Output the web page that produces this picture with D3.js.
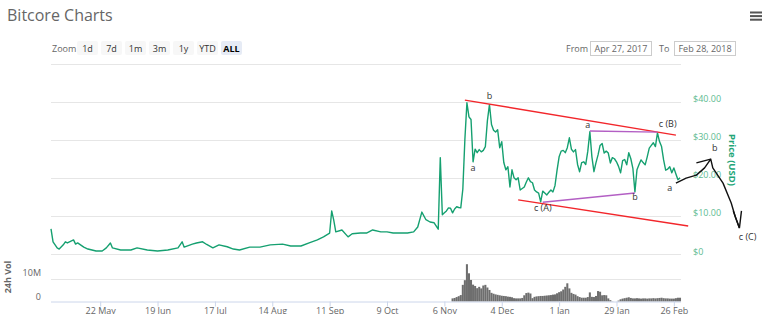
<!DOCTYPE html>
<html>
<head>
<meta charset="utf-8">
<script src="https://cdn.jsdelivr.net/npm/d3@7"></script>
<style>
  body { margin: 0; background: #fff; }
  svg { display: block; font-family: "Open Sans", "DejaVu Sans", sans-serif; }
</style>
</head>
<body>
<svg id="chart" width="768" height="314"></svg>
<script>
// sparse readings before the November run-up
var priceEarly = [
  ["2017-04-28", 6.6], ["2017-04-29", 3.2], ["2017-05-01", 1.6], ["2017-05-02", 1.3],
  ["2017-05-04", 2.4], ["2017-05-05", 3.2], ["2017-05-06", 2.9], ["2017-05-09", 3.7],
  ["2017-05-10", 2.6], ["2017-05-11", 2.9], ["2017-05-14", 1.8], ["2017-05-16", 1.3],
  ["2017-05-20", 0.8], ["2017-05-23", 0.8], ["2017-05-25", 1.6], ["2017-05-27", 2.9],
  ["2017-05-28", 1.6], ["2017-06-01", 1.05], ["2017-06-06", 1.05], ["2017-06-09", 1.6],
  ["2017-06-14", 1.05], ["2017-06-19", 0.8], ["2017-06-24", 1.05], ["2017-06-29", 1.6],
  ["2017-07-01", 3.2], ["2017-07-02", 1.8], ["2017-07-06", 2.6], ["2017-07-08", 2.9],
  ["2017-07-11", 3.2], ["2017-07-13", 2.5], ["2017-07-16", 1.6], ["2017-07-19", 2.4],
  ["2017-07-23", 1.9], ["2017-07-26", 1.3], ["2017-07-29", 1.05], ["2017-08-03", 1.8],
  ["2017-08-08", 1.8], ["2017-08-13", 2.4], ["2017-08-19", 2.6], ["2017-08-23", 2.1],
  ["2017-08-28", 2.1], ["2017-09-01", 2.9], ["2017-09-05", 3.7], ["2017-09-08", 4.5],
  ["2017-09-11", 5.5], ["2017-09-12", 11.3], ["2017-09-13", 8.9], ["2017-09-14", 5.8],
  ["2017-09-17", 6.3], ["2017-09-20", 4.5], ["2017-09-22", 5.3], ["2017-09-26", 5.5],
  ["2017-09-29", 5.5], ["2017-10-02", 6.3], ["2017-10-06", 5.8], ["2017-10-09", 5.8],
  ["2017-10-12", 5.5], ["2017-10-15", 5.5], ["2017-10-19", 5.5], ["2017-10-22", 5.8],
  ["2017-10-24", 7.1], ["2017-10-26", 11], ["2017-10-28", 9], ["2017-10-30", 8.4],
  ["2017-11-01", 8.2], ["2017-11-03", 6.5]
];

// daily closes from Nov 4
var dailyStart = "2017-11-04";
var dailyPrices = [
  25.3, 10.3, 10.8, 11.3, 12.1, 12, 10.8, 11.8, 12.4, 12.2, 12.1, 17, 30, 39.7,
  36, 35.3, 24.2, 27.5, 26.6, 27.4, 26.8, 27.2, 28.2, 35, 39.2, 34, 32.5,
  // dec
  32, 32.6, 27.9, 29.5, 24, 22.1, 22.9, 17.6, 22.1, 20, 19.5, 20, 16.8, 17.2, 17.6,
  18.9, 20, 19, 18.7, 16.8, 16.3, 16, 13.7, 16.5, 16, 15.5, 16.2, 16.8, 16.3, 18, 22,
  // jan
  25.5, 27, 27.2, 26.6, 27.9, 30.5, 27.5, 26.8, 27.4, 23.5, 21.6, 24, 24.2, 23.5, 27,
  32.1, 25.5, 21.6, 24, 26, 28.5, 29, 26.5, 27, 26.5, 23.9, 25.3, 25, 24.2, 23, 21.3,
  // feb
  24.5, 24.8, 23.4, 26.6, 25, 22.5, 16.3, 22.1, 23.5, 24.7, 24, 23.4, 25.5, 27.8,
  28.5, 29.2, 28.2, 31.8, 29.5, 28.2, 24.7, 22, 22.3, 22.9, 21.3, 22.6, 21, 19.5,
  // mar
  20
];

// 24h volume, millions, daily from Nov 10
var volStart = "2017-11-10";
var volValues = [
  1.4, 1.6, 2.0, 2.4, 2.9, 7.5, 9.6, 16.8, 12.7, 9.7, 7.6, 7.0, 6.0, 6.6, 5.9, 7.2, 7.5, 6.3, 5.2, 3.9, 3.5,
  3.2, 3.0, 2.8, 2.6, 2.5, 2.4, 2.2, 2.1, 1.9, 1.5, 1.4, 1.4, 1.4, 1.6, 2.8, 3.8, 4.0, 3.6, 1.5, 2.1,
  2.3, 2.4, 2.5, 2.5, 2.6, 2.7, 2.8, 2.9, 3.1, 3.2, 3.7,
  4.2, 4.6, 5.4, 6.6, 8.2, 5.9, 3.9, 3.4, 3.1, 2.4, 2.0, 1.7, 1.7, 1.7, 2.0, 4.1, 2.1, 2.0, 2.5,
  4.7, 4.4, 2.8, 2.9, 2.8, 1.4, 0.6, 0.1, 0, 0, 0.4, 1.0,
  1.3, 1.5, 1.7, 1.9, 1.6, 1.4, 1.4, 1.5, 1.4, 1.3, 1.4, 1.4, 1.3, 1.4, 1.4, 1.5, 1.4, 1.5, 1.6,
  1.7, 1.5, 1.4, 1.4, 1.3, 1.3, 1.3, 1.5, 1.7,
  1.7
];

var tickDates = ["2017-05-22", "2017-06-19", "2017-07-17", "2017-08-14", "2017-09-11", "2017-10-09",
  "2017-11-06", "2017-12-04", "2018-01-01", "2018-01-29", "2018-02-26"];
var priceTicks = [0, 10, 20, 30, 40, 50];
var zoomButtons = ["1d", "7d", "1m", "3m", "1y", "YTD", "ALL"];
var rangeFrom = "Apr 27, 2017", rangeTo = "Feb 28, 2018";

// hand drawn annotations, in [date, price]
var redLines = [
  [["2017-11-16", 40.4], ["2018-02-27", 31.2]],
  [["2017-12-12", 14.2], ["2018-03-05", 7.35]]
];
var purpleLines = [
  [["2018-01-16", 32.3], ["2018-02-18", 32.0]],
  [["2017-12-24", 13.6], ["2018-02-07", 16.0]]
];
var waveLabels = [
  ["b", "2017-11-28", 41.5], ["a", "2017-11-20", 22.6], ["c (A)", "2017-12-24", 12.1],
  ["a", "2018-01-15", 33.9], ["b", "2018-02-07", 15.0], ["c (B)", "2018-02-23", 34.1],
  ["a", "2018-02-24", 17.3], ["b", "2018-03-18", 27.9], ["c (C)", "2018-04-03", 4.5]
];
var forecastPath = [
  ["2018-02-27", 18.6], ["2018-03-04", 19.9], ["2018-03-09", 20.7], ["2018-03-13", 22.6],
  ["2018-03-16", 24.9], ["2018-03-17", 22.6], ["2018-03-22", 18.6], ["2018-03-26", 13.4],
  ["2018-03-28", 9.7], ["2018-03-30", 6.8]
];
var forecastHeads = [
  [["2018-03-09", 23.9], ["2018-03-16", 24.9]],
  [["2018-03-27", 11.3], ["2018-03-30", 6.8], ["2018-03-31", 11.3]]
];

var parse = d3.utcParse("%Y-%m-%d");
var svg = d3.select("#chart");

var prices = priceEarly.map(function(d) { return {date: parse(d[0]), value: d[1]}; });
dailyPrices.forEach(function(v, i) {
  prices.push({date: d3.utcDay.offset(parse(dailyStart), i), value: v});
});
var volumes = volValues.map(function(v, i) {
  return {date: d3.utcDay.offset(parse(volStart), i), value: v};
});

var x = d3.scaleUtc()
  .domain([parse("2017-04-28"), parse("2018-03-01")])
  .range([51, 680]);
var y = d3.scaleLinear().domain([0, 50]).range([254, 63.5]);
var yVol = d3.scaleLinear().domain([0, 20]).range([301.5, 257.1]);

// header
svg.append("text").attr("x", 7).attr("y", 21)
  .attr("font-size", 16).attr("fill", "#666").text("Bitcore Charts");

svg.append("g").selectAll("rect").data([0, 1, 2]).enter().append("rect")
  .attr("x", 750).attr("y", function(d) { return 11.5 + d * 3.6; })
  .attr("width", 12).attr("height", 2).attr("fill", "#555");

// range selector
svg.append("text").attr("x", 52).attr("y", 51.5)
  .attr("font-size", 9).attr("fill", "#666").text("Zoom");

var btn = svg.append("g").selectAll("g").data(zoomButtons).enter().append("g")
  .attr("transform", function(d, i) { return "translate(" + (77 + i * 24) + ",41)"; });
btn.append("rect").attr("width", 21).attr("height", 14).attr("rx", 2)
  .attr("fill", function(d) { return d === "ALL" ? "#e6ebf5" : "#f7f7f7"; });
btn.append("text").attr("x", 10.5).attr("y", 10.5).attr("text-anchor", "middle")
  .attr("font-size", 9)
  .attr("font-weight", function(d) { return d === "ALL" ? "bold" : "normal"; })
  .attr("fill", function(d) { return d === "ALL" ? "#000" : "#333"; })
  .text(function(d) { return d; });

svg.append("text").attr("x", 566).attr("y", 51.5)
  .attr("font-size", 9).attr("fill", "#666").text("From");
svg.append("text").attr("x", 659).attr("y", 51.5)
  .attr("font-size", 9).attr("fill", "#666").text("To");
[[590, rangeFrom], [674, rangeTo]].forEach(function(b) {
  svg.append("rect").attr("x", b[0] + 0.5).attr("y", 41.5).attr("width", 61).attr("height", 14)
    .attr("fill", "#fff").attr("stroke", "#ccc");
  svg.append("text").attr("x", b[0] + 31).attr("y", 51.5).attr("text-anchor", "middle")
    .attr("font-size", 9).attr("fill", "#666").text(b[1]);
});

// price grid + labels
svg.append("g").selectAll("line").data(priceTicks).enter().append("line")
  .attr("x1", 51).attr("x2", 681)
  .attr("y1", function(d) { return Math.round(y(d)) + 0.5; })
  .attr("y2", function(d) { return Math.round(y(d)) + 0.5; })
  .attr("stroke", "#e6e6e6");

svg.append("g").selectAll("text").data(priceTicks.slice(0, -1)).enter().append("text")
  .attr("x", 693).attr("y", function(d) { return y(d) + 0.5; })
  .attr("font-size", 9).attr("fill", "#5dbb91")
  .text(function(d) { return d === 0 ? "$0" : "$" + d.toFixed(2); });

svg.append("text").attr("transform", "translate(729,160) rotate(90)")
  .attr("text-anchor", "middle").attr("font-size", 9.5).attr("font-weight", "bold")
  .attr("fill", "#22a577").text("Price (USD)");

// price line
var line = d3.line()
  .x(function(d) { return x(d.date); })
  .y(function(d) { return y(d.value); });
svg.append("path").datum(prices).attr("d", line)
  .attr("fill", "none").attr("stroke", "#15a070").attr("stroke-width", 1.4)
  .attr("stroke-linejoin", "round");

// volume panel
svg.append("line").attr("x1", 51).attr("x2", 681).attr("y1", Math.round(yVol(10)) + 0.5)
  .attr("y2", Math.round(yVol(10)) + 0.5).attr("stroke", "#e6e6e6");

var dayW = x(parse("2017-11-11")) - x(parse("2017-11-10"));
svg.append("g").selectAll("rect").data(volumes).enter().append("rect")
  .attr("x", function(d) { return x(d.date) - dayW / 2; })
  .attr("y", function(d) { return yVol(d.value); })
  .attr("width", dayW)
  .attr("height", function(d) { return yVol(0) - yVol(d.value); })
  .attr("fill", "#6e6e6e");

svg.append("text").attr("x", 41).attr("y", yVol(10) - 3).attr("text-anchor", "end")
  .attr("font-size", 9).attr("fill", "#666").text("10M");
svg.append("text").attr("x", 41).attr("y", yVol(0) - 2).attr("text-anchor", "end")
  .attr("font-size", 9).attr("fill", "#666").text("0");
svg.append("text").attr("transform", "translate(11,277) rotate(-90)")
  .attr("text-anchor", "middle").attr("font-size", 9).attr("font-weight", "bold")
  .attr("fill", "#666").text("24h Vol");

var xAxis = d3.axisBottom(x)
  .tickValues(tickDates.map(parse))
  .tickFormat(d3.utcFormat("%-d %b"))
  .tickSize(5).tickSizeOuter(0).tickPadding(1);
var ax = svg.append("g").attr("transform", "translate(0," + yVol(0) + ")").call(xAxis);
ax.select(".domain").attr("stroke", "#ccd6eb").attr("d", "M51,0.5H681");
ax.selectAll(".tick line").attr("stroke", "#ccd6eb");
ax.selectAll(".tick text").attr("font-size", 9).attr("fill", "#666")
  .attr("font-family", "Open Sans, DejaVu Sans, sans-serif");

// annotations
function pt(p) { return [x(parse(p[0])), y(p[1])]; }
var annLine = d3.line();

redLines.forEach(function(seg) {
  svg.append("path").attr("d", annLine(seg.map(pt)))
    .attr("stroke", "#f2262b").attr("stroke-width", 1.4).attr("fill", "none");
});
purpleLines.forEach(function(seg) {
  svg.append("path").attr("d", annLine(seg.map(pt)))
    .attr("stroke", "#b35fc4").attr("stroke-width", 1.4).attr("fill", "none");
});

svg.append("path").attr("d", annLine(forecastPath.map(pt)))
  .attr("stroke", "#111").attr("stroke-width", 1.4).attr("fill", "none")
  .attr("stroke-linejoin", "round");
forecastHeads.forEach(function(h) {
  svg.append("path").attr("d", annLine(h.map(pt)))
    .attr("stroke", "#111").attr("stroke-width", 1.4).attr("fill", "none");
});

svg.append("g").selectAll("text").data(waveLabels).enter().append("text")
  .attr("x", function(d) { return x(parse(d[1])); })
  .attr("y", function(d) { return y(d[2]) + 3; })
  .attr("text-anchor", "middle").attr("font-size", 9).attr("fill", "#333")
  .text(function(d) { return d[0]; });
</script>
</body>
</html>
